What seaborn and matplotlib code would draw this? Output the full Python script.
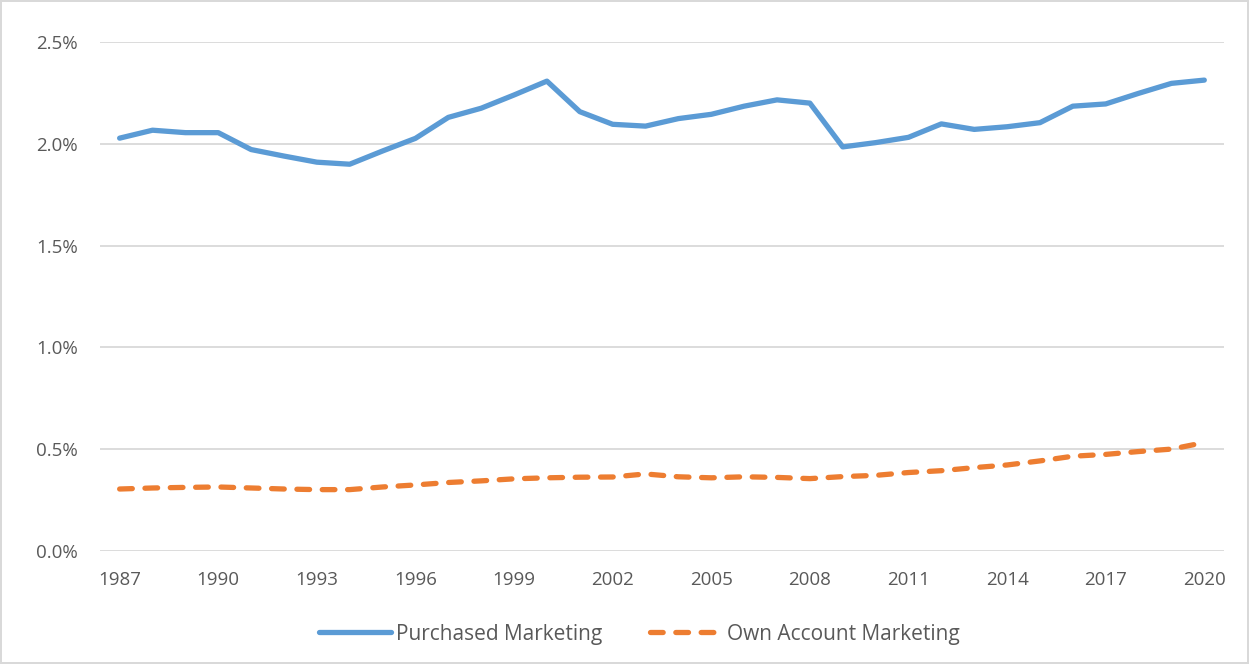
import pandas as pd
import matplotlib.pyplot as plt
import matplotlib.ticker as mticker
import seaborn as sns

# ================= DATA =================
YEARS = list(range(1987, 2021))

PURCHASED = [
    2.028, 2.067, 2.055, 2.055, 1.972, 1.940, 1.910, 1.900, 1.965, 2.027,
    2.130, 2.175, 2.240, 2.308, 2.158, 2.096, 2.087, 2.124, 2.145, 2.185,
    2.216, 2.200, 1.985, 2.006, 2.032, 2.098, 2.071, 2.084, 2.104, 2.185,
    2.196, 2.248, 2.297, 2.313,
]

OWN_ACCOUNT = [
    0.305, 0.310, 0.313, 0.315, 0.310, 0.305, 0.302, 0.302, 0.315, 0.325,
    0.337, 0.345, 0.355, 0.360, 0.363, 0.364, 0.379, 0.365, 0.360, 0.365,
    0.362, 0.356, 0.366, 0.372, 0.386, 0.395, 0.410, 0.423, 0.443, 0.466,
    0.475, 0.489, 0.501, 0.533,
]

SERIES_NAMES = ["Purchased Marketing", "Own Account Marketing"]
COLORS = ["#5B9BD5", "#ED7D31"]
X_TICKS = list(range(1987, 2021, 3))
# =========================================


def main():
    df = pd.DataFrame({
        "Year": YEARS * 2,
        "Share": [v / 100 for v in PURCHASED + OWN_ACCOUNT],
        "Series": [SERIES_NAMES[0]] * len(YEARS) + [SERIES_NAMES[1]] * len(YEARS),
    })

    sns.set_theme(style="white")
    plt.rcParams["font.family"] = ["Open Sans", "DejaVu Sans"]

    fig = plt.figure(figsize=(12.49, 6.64), dpi=100)
    fig.patch.set_edgecolor("#D9D9D9")
    fig.patch.set_linewidth(1.5)
    ax = fig.add_axes([0.080, 0.170, 0.900, 0.7667])

    sns.lineplot(
        data=df, x="Year", y="Share", hue="Series", style="Series",
        palette=dict(zip(SERIES_NAMES, COLORS)),
        dashes={SERIES_NAMES[0]: "", SERIES_NAMES[1]: (2.4, 2.4)},
        linewidth=3.8, dash_capstyle="round", solid_capstyle="round",
        ax=ax, zorder=3,
    )

    ax.set_ylim(0, 0.025)
    ax.set_xlim(1986.4, 2020.6)
    ax.yaxis.set_major_locator(mticker.MultipleLocator(0.005))
    ax.yaxis.set_major_formatter(mticker.PercentFormatter(1.0, decimals=1))
    ax.set_xticks(X_TICKS)
    ax.grid(axis="y", color="#D9D9D9", linewidth=1.3)
    ax.grid(axis="x", visible=False)
    for side in ["top", "right", "left", "bottom"]:
        ax.spines[side].set_visible(False)

    ax.tick_params(axis="both", length=0, labelsize=13.5, labelcolor="#595959")
    ax.tick_params(axis="y", pad=16)
    ax.tick_params(axis="x", pad=14)
    ax.set_xlabel("")
    ax.set_ylabel("")

    handles, labels = ax.get_legend_handles_labels()
    ax.legend(
        handles, labels, loc="center", bbox_to_anchor=(0.48, -0.163),
        ncol=2, frameon=False, fontsize=15, handlelength=3.45,
        handletextpad=0.24, columnspacing=2.3, labelcolor="#595959",
    )

    fig.savefig("out.png", dpi=100)
    plt.close(fig)


if __name__ == "__main__":
    main()
